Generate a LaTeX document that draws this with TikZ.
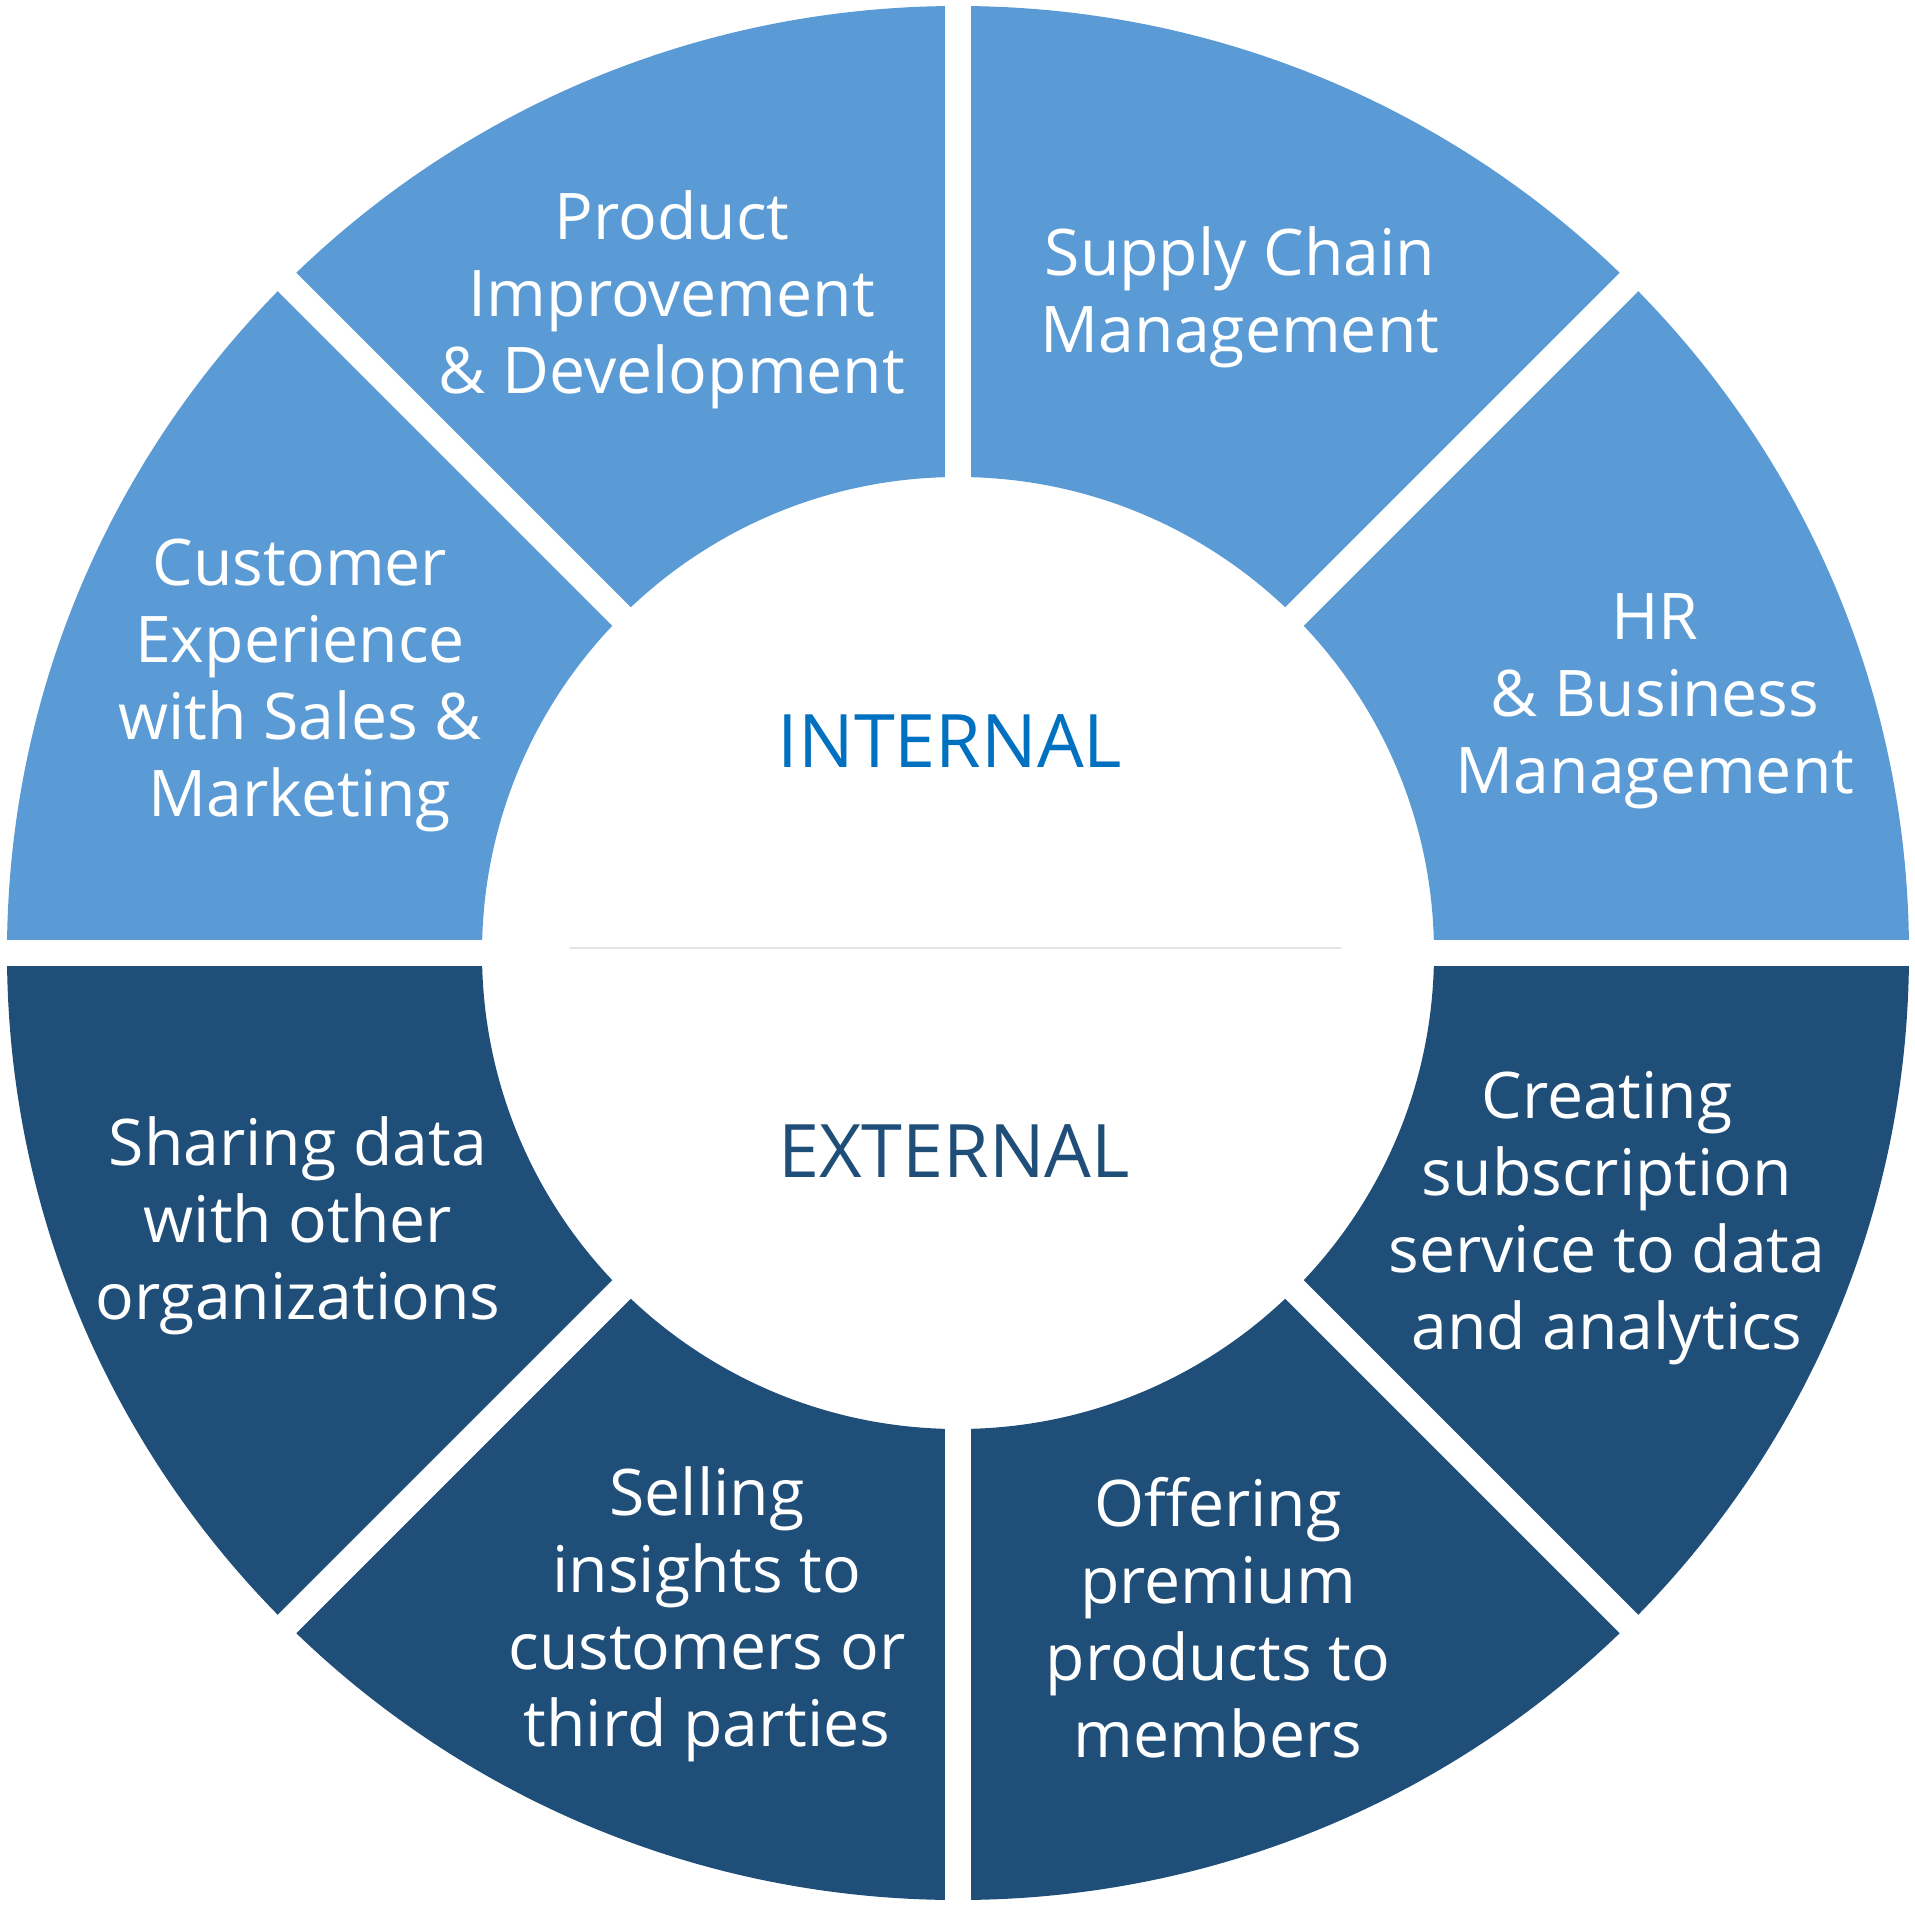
\documentclass[tikz,border=0pt]{standalone}
\usepackage{fontspec}
\setmainfont{Open Sans}
\usetikzlibrary{positioning}
\definecolor{lightseg}{HTML}{5B9BD5}
\definecolor{darkseg}{HTML}{1F4E79}
\definecolor{intblue}{HTML}{0070C0}
\definecolor{midline}{HTML}{E3E3E3}

\begin{document}
\begin{tikzpicture}[x=0.1mm,y=0.1mm,
    segtext/.style={text=white,align=center,font=\fontsize{18.3}{21.9}\selectfont},
    halftext/.style={font=\fontsize{21}{24}\selectfont}]
  \useasboundingbox (-958,-953) rectangle (957,953);
  % internal half
  \fill[lightseg] (951,0) arc[start angle=0,end angle=180,x radius=951,y radius=947]
    -- (180:476) arc[start angle=180,end angle=0,radius=476] -- cycle;
  % external half
  \fill[darkseg] (-951,0) arc[start angle=180,end angle=360,x radius=951,y radius=947]
    -- (0:476) arc[start angle=360,end angle=180,radius=476] -- cycle;
  % white gaps between the segments
  \foreach \a in {0,45,90,135}
    \draw[white,line width=2.6mm] (\a:960) -- (\a+180:960);
  % centre
  \fill[white] (0,0) circle[radius=472];
  \draw[midline,line width=0.2mm] (-388,5) -- (383,5);
  \node[halftext,text=intblue] (internal) at (-8,212) {INTERNAL};
  \node[halftext,text=darkseg] (external) at (-4,-198) {EXTERNAL};
  % internal segments
  \node[segtext] (product) at (-286,653) {Product\\Improvement\\\& Development};
  \node[segtext] (supply) at (282,656) {Supply Chain\\Management};
  \node[segtext] (hr) at (697,252) {HR\\\& Business\\Management};
  \node[segtext] (customer) at (-658,268) {Customer\\Experience\\with Sales \&\\Marketing};
  % external segments
  \node[segtext] (sharing) at (-660,-273) {Sharing data\\with other\\organizations};
  \node[segtext] (selling) at (-251,-661) {Selling\\insights to\\customers or\\third parties};
  \node[segtext] (offering) at (260,-665) {Offering\\premium\\products to\\members};
  \node[segtext] (creating) at (649,-265) {Creating\\subscription\\service to data\\and analytics};
\end{tikzpicture}
\end{document}
